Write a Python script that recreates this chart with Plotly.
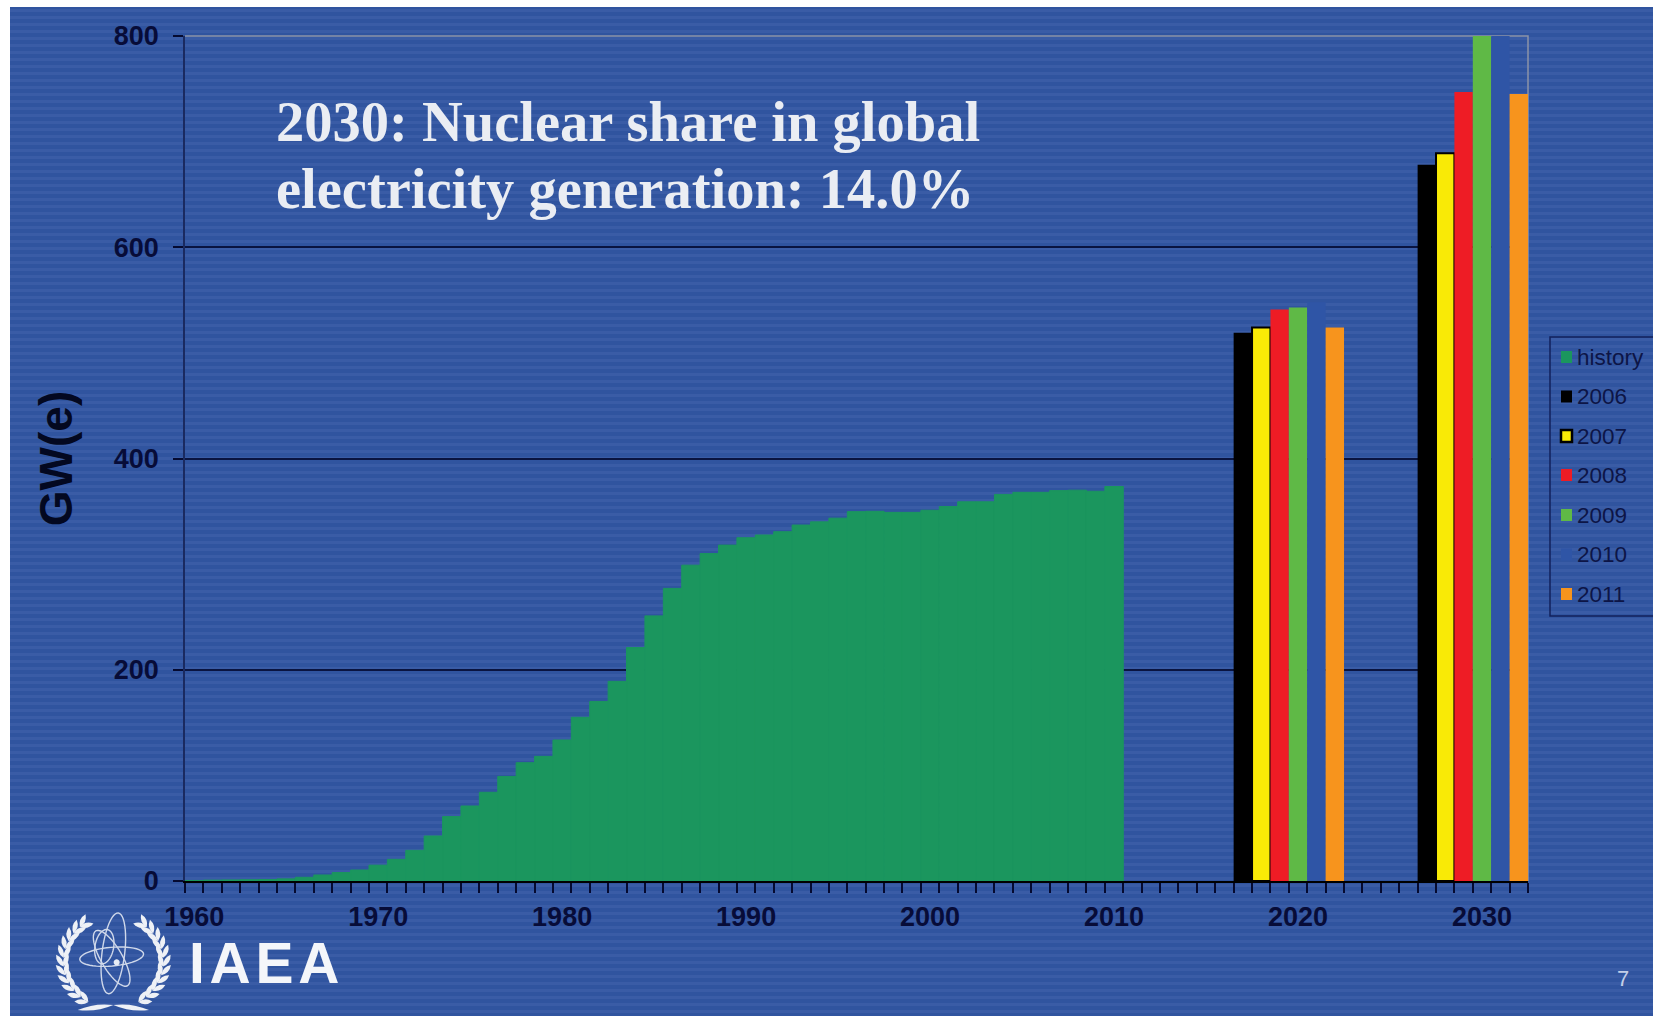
import math
import plotly.graph_objects as go

W, H = 1653, 1016

# Installed capacity by year, GW(e)
history_years = list(range(1960, 2011))
history_values = [0.5, 0.8, 1, 1.2, 1.4, 2, 3.5, 5.7, 8, 10.4, 15, 20.5, 29, 42.6, 61, 71,
                  84, 99, 112, 118, 133.5, 155, 170, 189, 221, 251, 277, 299, 310, 318,
                  325, 327.6, 330.7, 337, 340, 343.5, 349.7, 350, 349, 349, 351, 354.5,
                  359, 359, 366, 368, 368, 369.6, 370, 369, 373.5]

# High projections for 2020 and 2030 by edition year
edition_names = ["2006", "2007", "2008", "2009", "2010", "2011"]
edition_colors = ["#000000", "#f9ea06", "#ee1c25", "#5fb946", "#2f55a6", "#f7941d"]
projection_2020 = [519, 524, 541, 543, 548, 524]
projection_2030 = [678, 689, 747, 800, 800, 745]
edition_x_2020 = [2017, 2018, 2019, 2020, 2021, 2022]
edition_x_2030 = [2027, 2028, 2029, 2030, 2031, 2032]

y_ticks = [0, 200, 400, 600, 800]
x_ticks = [1960, 1970, 1980, 1990, 2000, 2010, 2020, 2030]

NAVY = "#070c38"
HISTORY_GREEN = "#1b965e"


def px(x):
    return x / W


def py(y):
    return 1 - y / H


def rect_path(x0, y0, x1, y1):
    return f"M{px(x0):.5f},{py(y0):.5f}L{px(x1):.5f},{py(y0):.5f}L{px(x1):.5f},{py(y1):.5f}L{px(x0):.5f},{py(y1):.5f}Z"


def paper_shape(path, fill=None, line=None, width=0, layer="below"):
    return dict(type="path", xref="paper", yref="paper", path=path, layer=layer,
                fillcolor=fill or "rgba(0,0,0,0)",
                line=dict(color=line or "rgba(0,0,0,0)", width=width))


def ellipse_path(cx, cy, rx, ry, deg, n=48):
    a = math.radians(deg)
    pts = []
    for i in range(n):
        t = 2 * math.pi * i / n
        x = rx * math.cos(t)
        y = ry * math.sin(t)
        pts.append((cx + x * math.cos(a) - y * math.sin(a), cy + x * math.sin(a) + y * math.cos(a)))
    return "M" + "L".join(f"{px(x):.5f},{py(y):.5f}" for x, y in pts) + "Z"


def leaf_path(x, y, deg, length, half):
    a = math.radians(deg)
    tip = (x + length * math.cos(a), y + length * math.sin(a))
    mid = (x + 0.5 * length * math.cos(a), y + 0.5 * length * math.sin(a))
    nx, ny = -math.sin(a) * half, math.cos(a) * half
    c1 = (mid[0] + nx, mid[1] + ny)
    c2 = (mid[0] - nx, mid[1] - ny)
    fmt = lambda p: f"{px(p[0]):.5f},{py(p[1]):.5f}"
    return f"M{fmt((x, y))}Q{fmt(c1)} {fmt(tip)}Q{fmt(c2)} {fmt((x, y))}Z"


shapes = []

# Page background with fine horizontal banding
shapes.append(paper_shape(rect_path(10, 7, W, H), fill="#30549f"))
bands = "".join(rect_path(10, y, W, y + 3) for y in range(9, H, 7))
shapes.append(paper_shape(bands, fill="#3a5ca6"))

# Upper and right frame of the plot area
shapes.append(dict(type="path", xref="paper", yref="paper", layer="between",
                   path=f"M{px(185):.5f},{py(36):.5f}L{px(1528):.5f},{py(36):.5f}L{px(1528):.5f},{py(881):.5f}",
                   line=dict(color="#8c93a8", width=1.5)))

# Emblem: orbits, nucleus and wreath
ox, oy = 45, 905
orbit_color = "#cfd8ea"
for cx, cy, rx, ry, deg in [(205, 145, 122, 34, 97), (200, 160, 95, 32, 60), (200, 155, 96, 28, -5),
                            (178, 125, 52, 28, 100)]:
    shapes.append(paper_shape(ellipse_path(ox + cx / 3, oy + cy / 3, rx / 3, ry / 3, deg),
                              line=orbit_color, width=1.4))
shapes.append(paper_shape(ellipse_path(ox + 215 / 3, oy + 172 / 3, 3, 3, 0), fill="#e8edf5"))

for side in (-1, 1):
    for i in range(11):
        phi = math.radians(30 + 108 * i / 10)
        xx = 205 + side * 150 * math.sin(phi)
        yy = 170 + 140 * math.cos(phi)
        base = math.degrees(math.atan2(-140 * math.sin(phi), side * 150 * math.cos(phi)))
        for off in (-26, 26):
            shapes.append(paper_shape(leaf_path(ox + xx / 3, oy + yy / 3, base + off, 14, 5), fill="#eef1f6"))
shapes.append(paper_shape(leaf_path(ox + 205 / 3, oy + 300 / 3, 172, 36, 5), fill="#eef1f6"))
shapes.append(paper_shape(leaf_path(ox + 205 / 3, oy + 300 / 3, 8, 36, 5), fill="#eef1f6"))

# Legend box and swatches, listed from the top
legend_labels = ["history"] + edition_names
legend_colors = [HISTORY_GREEN] + edition_colors
legend_rows = [357, 396.5, 436, 475, 515, 554.5, 594]
shapes.append(paper_shape(rect_path(1550, 337, 1662, 616), line="#12205c", width=1.5, layer="above"))
for name, color, row in zip(legend_labels, legend_colors, legend_rows):
    edge = name == "2007"
    shapes.append(paper_shape(rect_path(1561, row - 6, 1572, row + 6), fill=color,
                              line="#000000" if edge else None, width=2.5 if edge else 0, layer="above"))

headline_font = dict(family="Liberation Serif", size=56.5, color="#eaedf3", weight="bold")
annotations = [
    dict(text="2030: Nuclear share in global", x=px(274), y=py(122), xref="paper", yref="paper",
         xanchor="left", yanchor="middle", showarrow=False, font=headline_font),
    dict(text="electricity generation: 14.0%", x=px(274), y=py(189), xref="paper", yref="paper",
         xanchor="left", yanchor="middle", showarrow=False, font=headline_font),
    dict(text="I\u200aA\u200aE\u200aA", x=px(187), y=py(963), xref="paper", yref="paper", xanchor="left",
         yanchor="middle", showarrow=False,
         font=dict(family="Liberation Sans", size=57, color="#f4f6fa", weight="bold")),
    dict(text="7", x=px(1623), y=py(978), xref="paper", yref="paper", xanchor="center", yanchor="middle",
         showarrow=False, font=dict(family="Liberation Sans", size=22, color="#c3cfe8")),
]
for name, row in zip(legend_labels, legend_rows):
    annotations.append(dict(text=name, x=px(1575), y=py(row), xref="paper", yref="paper", xanchor="left",
                            yanchor="middle", showarrow=False,
                            font=dict(family="Liberation Sans", size=22.5, color="#0d1546")))

fig = go.Figure()
fig.add_trace(go.Bar(name="history", x=history_years, y=history_values, width=1,
                     marker=dict(color=HISTORY_GREEN, line=dict(color=HISTORY_GREEN, width=1))))
for i, name in enumerate(edition_names):
    edge = name == "2007"
    fig.add_trace(go.Bar(name=name, x=[edition_x_2020[i], edition_x_2030[i]],
                         y=[projection_2020[i], projection_2030[i]], width=1,
                         marker=dict(color=edition_colors[i],
                                     line=dict(color="#000000", width=2 if edge else 0))))

fig.update_layout(
    width=W, height=H, margin=dict(l=0, r=0, t=0, b=0, pad=0), autosize=False,
    paper_bgcolor="#ffffff", plot_bgcolor="rgba(0,0,0,0)",
    barmode="overlay", showlegend=False,
    shapes=shapes, annotations=annotations,
    xaxis=dict(domain=[px(185), px(1528)], range=[1959.5, 2032.5], tickmode="array", automargin=False,
               tickvals=x_ticks, ticktext=[str(v) for v in x_ticks], ticks="", showgrid=False,
               zeroline=False, showline=True, linecolor="#000000", linewidth=2,
               ticklabelstandoff=11,
               tickfont=dict(family="Liberation Sans", size=27, color=NAVY, weight="bold"),
               minor=dict(tickmode="linear", tick0=1959.5, dtick=1, ticks="outside", ticklen=10,
                          tickcolor="#050a30", tickwidth=1.5, showgrid=False)),
    yaxis=dict(domain=[py(881), py(36)], range=[0, 800], tickmode="array", tickvals=y_ticks, automargin=False,
               ticks="outside", ticklen=10, tickcolor="#050a30", tickwidth=1.5,
               showgrid=True, gridcolor="#0a1440", gridwidth=1.5, zeroline=False,
               showline=True, linecolor="#1a2a60", linewidth=1.5, ticklabelstandoff=9,
               tickfont=dict(family="Liberation Sans", size=27, color=NAVY, weight="bold"),
               title=dict(text="GW(e)", standoff=27,
                          font=dict(family="Liberation Sans", size=46, color="#030820", weight="bold"))),
)

fig.write_html("out.html")
